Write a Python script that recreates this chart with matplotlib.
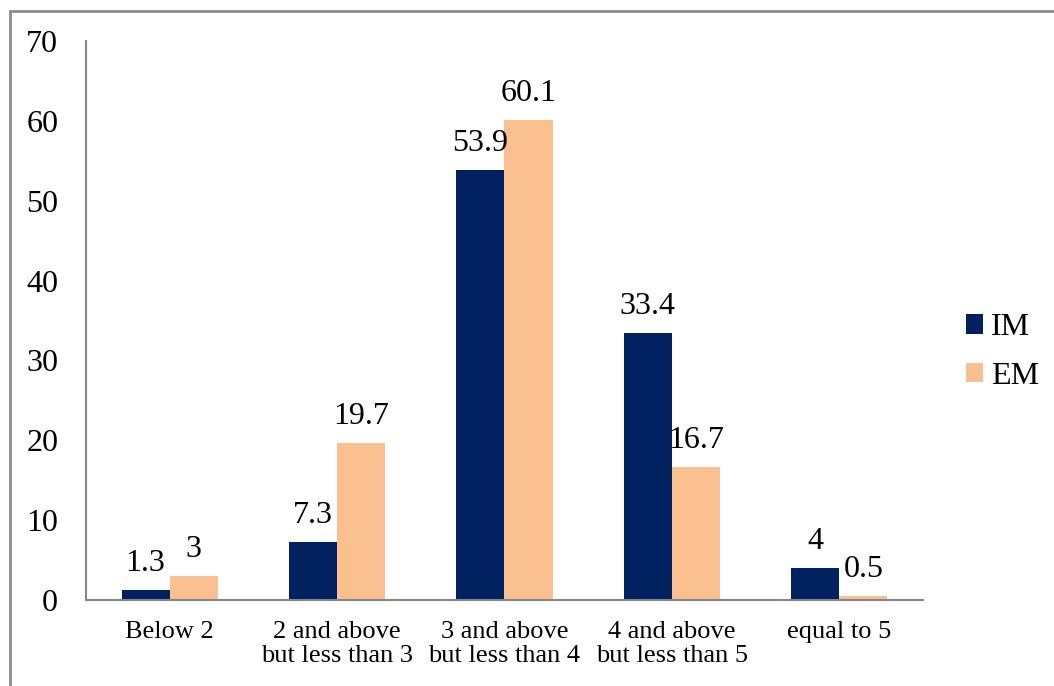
import matplotlib.pyplot as plt
import numpy as np
from matplotlib.patches import Rectangle

categories = ["Below 2", "2 and above\nbut less than 3", "3 and above\nbut less than 4",
              "4 and above\nbut less than 5", "equal to 5"]
im_values = [1.3, 7.3, 53.9, 33.4, 4]
em_values = [3, 19.7, 60.1, 16.7, 0.5]
series_names = ["IM", "EM"]
yticks = [0, 10, 20, 30, 40, 50, 60, 70]

plt.rcParams['font.family'] = ['Liberation Serif', 'DejaVu Serif']

fig = plt.figure(figsize=(10.54, 6.86), dpi=100)
# outer chart frame, running off the right and bottom edges
fig.patches.append(Rectangle((9.5 / 1054, -0.05), 1.1, 1 - 10.5 / 686 + 0.05,
                             transform=fig.transFigure, fill=False,
                             edgecolor='#8c8c8c', linewidth=2))

ax = fig.add_axes([86 / 1054, 1 - 600 / 686, (923 - 86) / 1054, (600 - 41) / 686])

x = np.arange(len(categories))
w = 0.287
b1 = ax.bar(x - w / 2, im_values, w, color='#002060', label=series_names[0])
b2 = ax.bar(x + w / 2, em_values, w, color='#FAC090', label=series_names[1])

for bars, vals in ((b1, im_values), (b2, em_values)):
    for rect, v in zip(bars, vals):
        ax.text(rect.get_x() + rect.get_width() / 2, v + 1.5, f"{v:g}",
                ha='center', va='bottom', fontsize=23)

ax.set_xlim(-0.5, len(categories) - 0.5)
ax.set_ylim(0, 70)
ax.set_yticks(yticks)
ax.set_xticks(x)
ax.set_xticklabels(categories, fontsize=19, linespacing=1.12)
ax.tick_params(axis='y', length=0, labelsize=23, pad=20)
ax.tick_params(axis='x', length=0, pad=15)

for side in ('top', 'right'):
    ax.spines[side].set_visible(False)
for side in ('left', 'bottom'):
    ax.spines[side].set_color('#868686')
    ax.spines[side].set_linewidth(1.5)

ax.legend(loc='center left', bbox_to_anchor=(953 / 1054, 1 - 352 / 686),
          bbox_transform=fig.transFigure, frameon=False, fontsize=23,
          handlelength=0.55, handleheight=0.55, handletextpad=0.25,
          labelspacing=0.6, borderaxespad=0)

fig.savefig("out.png", dpi=100)
